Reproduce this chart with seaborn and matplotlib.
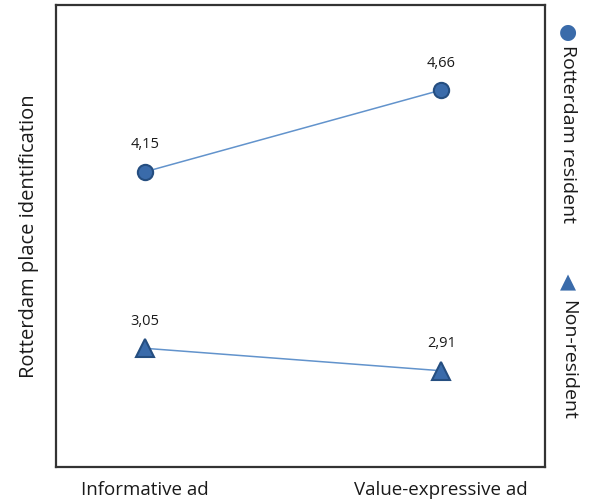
import matplotlib
matplotlib.use("Agg")
import matplotlib.pyplot as plt
import seaborn as sns
import pandas as pd

categories = ["Informative ad", "Value-expressive ad"]
resident = [4.15, 4.66]
non_resident = [3.05, 2.91]
series_names = ["Rotterdam resident", "Non-resident"]

sns.set_style("white")
plt.rcParams['font.family'] = ['Open Sans', 'DejaVu Sans']

df = pd.DataFrame({
    "pos": [0, 1, 0, 1],
    "value": resident + non_resident,
    "group": [series_names[0]] * 2 + [series_names[1]] * 2,
})

fig = plt.figure(figsize=(5.9, 5.01), dpi=100)
ax = fig.add_axes([56 / 590, 1 - 467 / 501, (545 - 56) / 590, (467 - 5) / 501])

line_col = "#6293CC"
mark_col = "#3A6BAA"
edge_col = "#254E80"
markers = {series_names[0]: "o", series_names[1]: "^"}
sizes = {series_names[0]: 11, series_names[1]: 13}

for name in series_names:
    sub = df[df.group == name]
    sns.lineplot(data=sub, x="pos", y="value", ax=ax, color=line_col, lw=1.1,
                 marker=markers[name], markersize=sizes[name],
                 markerfacecolor=mark_col, markeredgecolor=edge_col,
                 markeredgewidth=1.5, legend=False)
    for x, v in zip(sub.pos, sub.value):
        ax.annotate(f"{v:.2f}".replace(".", ","), (x, v), xytext=(0, 14),
                    textcoords="offset points", ha="center", va="bottom",
                    fontsize=10.5, color="#1a1a1a")

ax.set_xlim(-0.30, 1.35)
ax.set_ylim(2.31, 5.19)
ax.set_xticks([0, 1])
ax.set_xticklabels(categories, fontsize=13.5, color="#1a1a1a")
ax.tick_params(axis="x", length=0, pad=10)
ax.set_yticks([])
ax.set_xlabel("")
ax.set_ylabel("Rotterdam place identification", fontsize=14.5, labelpad=12,
              color="#1a1a1a")
for s in ax.spines.values():
    s.set_color("#333333")
    s.set_linewidth(1.6)

# legend on the right (rotated)
fig.text(568 / 590, 1 - 32 / 501, "●", color=mark_col, fontsize=15,
         ha="center", va="center", family="DejaVu Sans")
fig.text(568 / 590, 1 - 45 / 501, series_names[0], rotation=-90, fontsize=14,
         ha="center", va="top", color="#1a1a1a")
fig.text(568 / 590, 1 - 282 / 501, "▲", color=mark_col, fontsize=15,
         ha="center", va="center", family="DejaVu Sans")
fig.text(568 / 590, 1 - 300 / 501, series_names[1], rotation=-90, fontsize=14,
         ha="center", va="top", color="#1a1a1a")

fig.savefig("out.png", dpi=100)
